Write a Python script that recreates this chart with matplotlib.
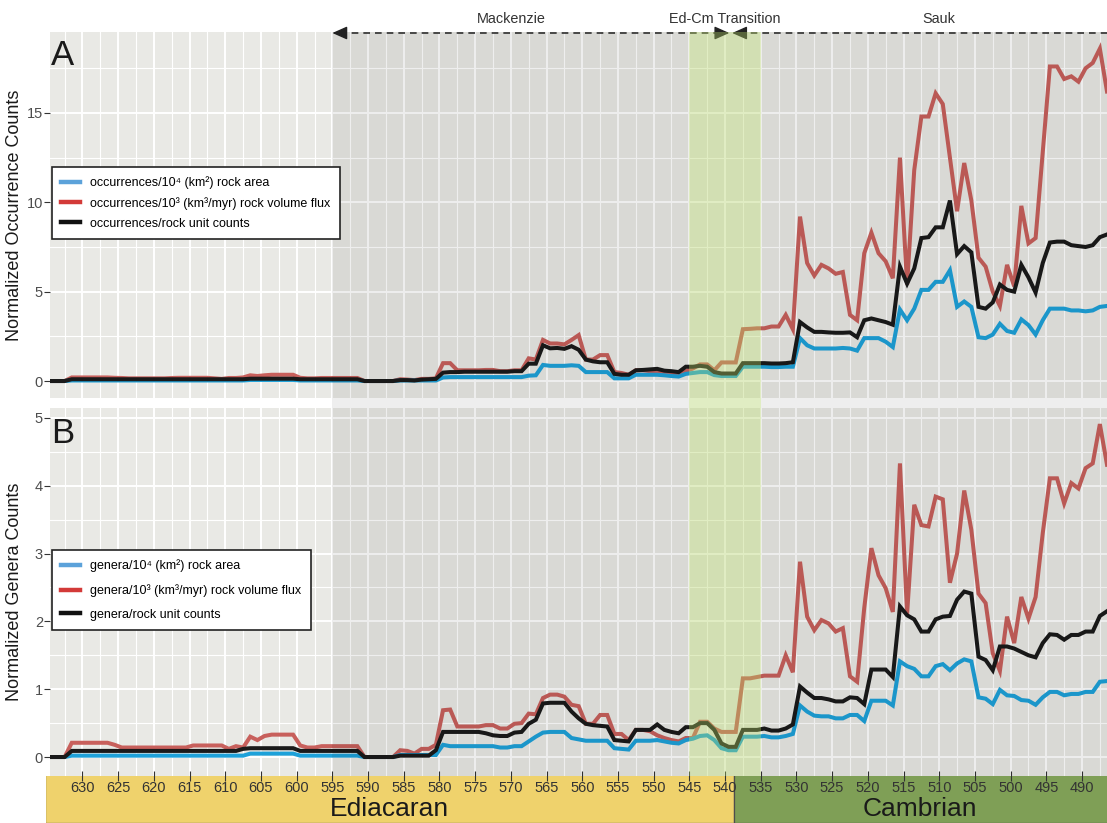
import numpy as np
import matplotlib.pyplot as plt
import matplotlib.transforms as mtransforms
from matplotlib.lines import Line2D
from matplotlib.patches import Rectangle

plt.rcParams['font.family'] = ['Liberation Sans', 'DejaVu Sans']

# 1-Myr bins, plotted at bin midpoints (Ma), oldest first
ages = np.arange(634.5, 486, -1.0)

# Panel A: normalized occurrence counts (one row = 10 bins)
occ_area = [
    0, 0, 0, 0.03, 0.03, 0.03, 0.03, 0.03, 0.03, 0.03,
    0.03, 0.03, 0.03, 0.03, 0.03, 0.03, 0.03, 0.03, 0.03, 0.03,
    0.03, 0.03, 0.03, 0.03, 0.03, 0.03, 0.03, 0.03, 0.06, 0.06,
    0.06, 0.06, 0.06, 0.06, 0.06, 0.03, 0.03, 0.03, 0.03, 0.03,
    0.03, 0.03, 0.03, 0.03, 0, 0, 0, 0, 0, 0.03,
    0.03, 0.03, 0.03, 0.03, 0.03, 0.2, 0.22, 0.22, 0.22, 0.22,
    0.22, 0.22, 0.22, 0.22, 0.22, 0.22, 0.22, 0.3, 0.32, 0.9,
    0.85, 0.85, 0.85, 0.88, 0.85, 0.5, 0.5, 0.5, 0.5, 0.15,
    0.15, 0.15, 0.35, 0.35, 0.35, 0.35, 0.32, 0.28, 0.25, 0.4,
    0.45, 0.5, 0.5, 0.33, 0.28, 0.28, 0.28, 0.8, 0.8, 0.8,
    0.8, 0.78, 0.78, 0.8, 0.8, 2.4, 2.0, 1.82, 1.82, 1.82,
    1.82, 1.85, 1.82, 1.7, 2.4, 2.4, 2.4, 2.2, 1.9, 4.0,
    3.4, 4.05, 5.1, 5.1, 5.55, 5.55, 6.2, 4.15, 4.45, 4.15,
    2.45, 2.4, 2.6, 3.2, 2.8, 2.7, 3.45, 3.13, 2.6, 3.4,
    4.05, 4.05, 4.05, 3.95, 3.95, 3.9, 3.95, 4.15, 4.2,
]
occ_flux = [
    0, 0, 0, 0.2, 0.2, 0.2, 0.2, 0.2, 0.2, 0.18,
    0.17, 0.15, 0.15, 0.15, 0.15, 0.15, 0.15, 0.17, 0.18, 0.18,
    0.18, 0.18, 0.18, 0.15, 0.12, 0.17, 0.17, 0.2, 0.32, 0.28,
    0.32, 0.35, 0.35, 0.35, 0.35, 0.18, 0.15, 0.15, 0.17, 0.17,
    0.17, 0.17, 0.17, 0.17, 0, 0, 0, 0, 0, 0.1,
    0.08, 0.05, 0.12, 0.12, 0.15, 1.0, 1.0, 0.6, 0.6, 0.6,
    0.6, 0.62, 0.62, 0.55, 0.55, 0.6, 0.6, 1.27, 1.2, 2.3,
    2.1, 2.1, 2.05, 2.3, 2.57, 1.2, 1.2, 1.45, 1.45, 0.5,
    0.45, 0.35, 0.6, 0.6, 0.55, 0.5, 0.45, 0.4, 0.35, 0.55,
    0.7, 0.93, 0.93, 0.6, 1.04, 1.04, 1.04, 2.9, 2.92, 2.95,
    2.95, 3.05, 3.05, 3.7, 2.9, 9.2, 6.6, 5.9, 6.5, 6.3,
    6.0, 6.1, 3.7, 3.4, 7.15, 8.3, 7.15, 6.7, 5.75, 12.5,
    5.4, 11.8, 14.8, 14.8, 16.1, 15.5, 12.5, 9.5, 12.2, 10.1,
    6.9, 6.4, 5.0, 4.2, 6.5, 5.3, 9.8, 7.7, 8.0, 12.8,
    17.6, 17.6, 16.9, 17.05, 16.75, 17.5, 17.8, 18.6, 16.2,
]
occ_units = [
    0, 0, 0, 0.1, 0.1, 0.1, 0.1, 0.1, 0.1, 0.1,
    0.1, 0.1, 0.1, 0.1, 0.1, 0.1, 0.1, 0.1, 0.1, 0.1,
    0.1, 0.1, 0.1, 0.1, 0.1, 0.1, 0.1, 0.1, 0.13, 0.13,
    0.13, 0.13, 0.13, 0.13, 0.13, 0.1, 0.1, 0.1, 0.1, 0.1,
    0.1, 0.1, 0.1, 0.1, 0, 0, 0, 0, 0, 0.05,
    0.05, 0.03, 0.08, 0.1, 0.12, 0.47, 0.5, 0.5, 0.52, 0.52,
    0.52, 0.52, 0.52, 0.52, 0.52, 0.55, 0.55, 0.97, 0.97, 2.0,
    1.83, 1.85, 1.8, 1.95, 1.75, 1.2, 1.1, 1.05, 1.05, 0.4,
    0.35, 0.35, 0.6, 0.62, 0.65, 0.68, 0.58, 0.55, 0.5, 0.8,
    0.8, 0.85, 0.8, 0.5, 0.42, 0.42, 0.42, 1.0, 1.0, 1.0,
    1.0, 0.98, 0.98, 1.0, 1.05, 3.3, 3.0, 2.75, 2.75, 2.72,
    2.7, 2.7, 2.72, 2.45, 3.4, 3.5, 3.4, 3.3, 3.15, 6.4,
    5.45, 6.3, 8.0, 8.05, 8.6, 8.6, 10.1, 7.1, 7.55, 7.2,
    4.15, 4.05, 4.4, 5.4, 5.1, 5.0, 6.5, 5.8, 4.95, 6.6,
    7.75, 7.8, 7.8, 7.6, 7.55, 7.5, 7.6, 8.05, 8.2,
]

# Panel B: normalized genera counts
gen_area = [
    0, 0, 0, 0.02, 0.02, 0.02, 0.02, 0.02, 0.02, 0.02,
    0.02, 0.02, 0.02, 0.02, 0.02, 0.02, 0.02, 0.02, 0.02, 0.02,
    0.02, 0.02, 0.02, 0.02, 0.02, 0.02, 0.02, 0.02, 0.05, 0.05,
    0.05, 0.05, 0.05, 0.05, 0.05, 0.02, 0.02, 0.02, 0.02, 0.02,
    0.02, 0.02, 0.02, 0.02, 0, 0, 0, 0, 0, 0.03,
    0.03, 0.03, 0.03, 0.03, 0.03, 0.18, 0.16, 0.16, 0.16, 0.16,
    0.16, 0.16, 0.16, 0.14, 0.14, 0.16, 0.16, 0.23, 0.3, 0.36,
    0.37, 0.37, 0.37, 0.28, 0.26, 0.24, 0.24, 0.24, 0.24, 0.13,
    0.12, 0.11, 0.24, 0.24, 0.24, 0.25, 0.23, 0.21, 0.2, 0.25,
    0.27, 0.31, 0.32, 0.25, 0.13, 0.1, 0.1, 0.3, 0.3, 0.3,
    0.31, 0.29, 0.29, 0.31, 0.34, 0.76, 0.67, 0.61, 0.6, 0.6,
    0.57, 0.57, 0.62, 0.62, 0.53, 0.83, 0.83, 0.83, 0.76, 1.41,
    1.34, 1.3, 1.19, 1.19, 1.34, 1.37, 1.28, 1.38, 1.44, 1.41,
    0.88, 0.86, 0.78, 0.99, 0.91, 0.9, 0.84, 0.83, 0.77, 0.88,
    0.96, 0.96, 0.91, 0.93, 0.93, 0.96, 0.96, 1.11, 1.12,
]
gen_flux = [
    0, 0, 0, 0.21, 0.21, 0.21, 0.21, 0.21, 0.21, 0.18,
    0.14, 0.14, 0.14, 0.14, 0.14, 0.14, 0.14, 0.14, 0.14, 0.14,
    0.17, 0.17, 0.17, 0.17, 0.17, 0.12, 0.16, 0.14, 0.3, 0.25,
    0.31, 0.33, 0.33, 0.33, 0.33, 0.17, 0.14, 0.14, 0.16, 0.16,
    0.16, 0.16, 0.16, 0.16, 0, 0, 0, 0, 0, 0.1,
    0.09, 0.05, 0.12, 0.12, 0.18, 0.69, 0.7, 0.45, 0.45, 0.45,
    0.45, 0.47, 0.47, 0.42, 0.42, 0.49, 0.5, 0.64, 0.63, 0.87,
    0.92, 0.92, 0.89, 0.77, 0.75, 0.49, 0.49, 0.62, 0.62, 0.34,
    0.34, 0.25, 0.4, 0.4, 0.38, 0.32, 0.28, 0.25, 0.23, 0.28,
    0.28, 0.52, 0.52, 0.42, 0.37, 0.37, 0.37, 1.16, 1.16, 1.18,
    1.2, 1.2, 1.2, 1.5, 1.25, 2.88, 2.07, 1.87, 2.02, 1.97,
    1.85, 1.9, 1.19, 1.11, 2.2, 3.08, 2.68, 2.49, 2.14, 4.33,
    2.11, 3.72, 3.42, 3.4, 3.84, 3.8, 2.57, 3.0, 3.93, 3.35,
    2.41, 2.27, 1.53, 1.27, 2.07, 1.68, 2.36, 2.04, 2.36, 3.3,
    4.11, 4.11, 3.74, 4.04, 3.96, 4.26, 4.33, 4.91, 4.31,
]
gen_units = [
    0, 0, 0, 0.09, 0.09, 0.09, 0.09, 0.09, 0.09, 0.09,
    0.09, 0.09, 0.09, 0.09, 0.09, 0.09, 0.09, 0.09, 0.09, 0.09,
    0.09, 0.09, 0.09, 0.09, 0.09, 0.09, 0.09, 0.12, 0.13, 0.13,
    0.13, 0.13, 0.13, 0.13, 0.13, 0.09, 0.09, 0.09, 0.09, 0.09,
    0.09, 0.09, 0.09, 0.09, 0, 0, 0, 0, 0, 0.02,
    0.02, 0.02, 0.02, 0.02, 0.1, 0.37, 0.37, 0.37, 0.37, 0.37,
    0.37, 0.35, 0.32, 0.31, 0.31, 0.36, 0.37, 0.49, 0.55, 0.79,
    0.8, 0.8, 0.8, 0.67, 0.57, 0.49, 0.47, 0.46, 0.45, 0.25,
    0.24, 0.23, 0.4, 0.4, 0.4, 0.48, 0.4, 0.37, 0.35, 0.44,
    0.44, 0.5, 0.5, 0.4, 0.2, 0.15, 0.15, 0.4, 0.4, 0.4,
    0.42, 0.39, 0.39, 0.42, 0.48, 1.04, 0.95, 0.87, 0.87, 0.85,
    0.82, 0.82, 0.88, 0.87, 0.78, 1.29, 1.29, 1.29, 1.18, 2.22,
    2.09, 2.03, 1.85, 1.85, 2.03, 2.07, 2.08, 2.32, 2.44, 2.41,
    1.48, 1.43, 1.28, 1.63, 1.63, 1.6, 1.55, 1.5, 1.47, 1.68,
    1.81, 1.8, 1.73, 1.8, 1.8, 1.85, 1.85, 2.08, 2.15,
]

occ_labels = ['occurrences/10⁴ (km²) rock area',
              'occurrences/10³ (km³/myr) rock volume flux',
              'occurrences/rock unit counts']
gen_labels = ['genera/10⁴ (km²) rock area',
              'genera/10³ (km³/myr) rock volume flux',
              'genera/rock unit counts']

# time intervals
periods = [('Ediacaran', 635.2, 538.8, '#efd26c'), ('Cambrian', 538.8, 480.0, '#7f9f56')]
mackenzie = (595.0, 539.4)
sauk_start = 539.0
transition = (545.0, 535.0)

line_colors = ['#1da1d9', '#c8605c', '#1a1a1a']
key_colors = ['#5ca2da', '#d33a38', '#111111']
panel_bg = '#e9e9e5'
band_color = '#c6ec6e'

W, H = 1107, 823
fig = plt.figure(figsize=(W / 100, H / 100), dpi=100)


def pixel_axes(x0, y0, x1, y1):
    return fig.add_axes([x0 / W, 1 - y1 / H, (x1 - x0) / W, (y1 - y0) / H])


axA = pixel_axes(50, 32, 1107, 398)
axB = pixel_axes(50, 408, 1107, 776)
axS = pixel_axes(46, 776, 1107, 823)
axS.set_zorder(0)
axA.set_zorder(2)
axB.set_zorder(2)

x_left, x_right = 634.55, 486.5
strip_left = 635.11


def style_panel(ax, ylim, major, minor):
    ax.set_facecolor(panel_bg)
    ax.set_xlim(x_left, x_right)
    ax.set_ylim(*ylim)
    ax.set_xticks(np.arange(630, 489, -5))
    ax.set_xticks(np.arange(632.5, 486, -5), minor=True)
    ax.set_yticks(major)
    ax.set_yticks(minor, minor=True)
    ax.grid(which='major', color='white', lw=1.4)
    ax.grid(which='minor', color='white', lw=0.8)
    ax.set_axisbelow(True)
    for s in ax.spines.values():
        s.set_visible(False)
    ax.tick_params(axis='y', which='major', direction='out', length=4,
                   color='#333333', labelcolor='#4d4d4d', labelsize=10.5, pad=1)
    ax.tick_params(which='minor', length=0)
    # later interval shading and the Ed-Cm transition band
    ax.axvspan(mackenzie[0], 470, color='black', alpha=0.065, lw=0, zorder=3)
    ax.axvspan(*transition, color=band_color, alpha=0.33, lw=0, zorder=4)


def draw_series(ax, series, labels, spacing, anchor_y):
    for vals, col, z in zip(series, line_colors, [2.2, 2.1, 2.3]):
        ax.plot(ages, vals, color=col, lw=2.9, solid_joinstyle='miter', zorder=z)
    handles = [Line2D([], [], color=c, lw=3.2) for c in key_colors]
    leg = ax.legend(handles, labels, loc='upper left',
                    bbox_to_anchor=(52 / W, 1 - anchor_y / H),
                    bbox_transform=fig.transFigure, borderaxespad=0,
                    fontsize=9, frameon=True, fancybox=False, framealpha=1,
                    edgecolor='#222222', handlelength=1.45, handletextpad=0.85,
                    labelspacing=spacing, borderpad=0.75)
    leg.get_frame().set_linewidth(1.2)
    leg.set_zorder(10)


style_panel(axA, (-0.95, 19.53), [0, 5, 10, 15], [2.5, 7.5, 12.5, 17.5])
style_panel(axB, (-0.28, 5.147), [0, 1, 2, 3, 4, 5], np.arange(0.5, 5, 1.0))
draw_series(axA, [occ_area, occ_flux, occ_units], occ_labels, 0.62, 167)
draw_series(axB, [gen_area, gen_flux, gen_units], gen_labels, 0.95, 550)

axA.tick_params(axis='x', which='major', length=0, labelbottom=False)
axB.tick_params(axis='x', which='major', direction='inout', length=7,
                color='#333333', labelcolor='#333333', labelsize=10.5, pad=0)

axA.set_ylabel('Normalized Occurrence Counts', fontsize=13, color='#1a1a1a')
axB.set_ylabel('Normalized Genera Counts', fontsize=13, color='#1a1a1a')
axA.yaxis.set_label_coords(-27 / (1107 - 50), 0.5)
axB.yaxis.set_label_coords(-27 / (1107 - 50), 0.5)

fig.text(51 / W, 1 - 65 / H, 'A', fontsize=25, color='#1a1a1a', va='baseline')
fig.text(51 / W, 1 - 443 / H, 'B', fontsize=25, color='#1a1a1a', va='baseline')

# shading continues across the gap between the panels
gap = mtransforms.blended_transform_factory(axB.transData, fig.transFigure)
gap_y0, gap_h = 1 - 408 / H, 10 / H
fig.add_artist(Rectangle((mackenzie[0], gap_y0), x_right - mackenzie[0] - 10, gap_h,
                         transform=gap, color='black', alpha=0.065, lw=0))
fig.add_artist(Rectangle((transition[0], gap_y0), transition[1] - transition[0], gap_h,
                         transform=gap, color=band_color, alpha=0.33, lw=0))

# geological period bar
axS.set_xlim(strip_left, x_right)
axS.set_ylim(0, 1)
axS.axis('off')
for name, start, end, col in periods:
    axS.add_patch(Rectangle((start, 0), end - start, 1.2, facecolor=col,
                            edgecolor='#4d4d4d', lw=0.9))
    mid = (min(start, strip_left) + max(end, x_right)) / 2
    axS.text(mid, 0.149, name, ha='center', va='baseline', fontsize=19,
             color='#1a1a1a')

# tectonostratigraphic sequences along the top
top = mtransforms.blended_transform_factory(axA.transData, fig.transFigure)
arrow_y = 1 - 33 / H
text_y = 1 - 19 / H
dash = dict(color='#333333', lw=1.2, ls=(0, (4, 3)), clip_on=False, transform=top)
axA.plot([mackenzie[0] - 1, mackenzie[1] + 1], [arrow_y, arrow_y], **dash)
axA.plot([sauk_start - 1, x_right], [arrow_y, arrow_y], **dash)
head = dict(arrowstyle='-|>,head_length=0.9,head_width=0.4', color='#222222',
            lw=1.0, shrinkA=0, shrinkB=0)
for tip, tail in [(mackenzie[0], mackenzie[0] - 1.6), (mackenzie[1], mackenzie[1] + 1.6),
                  (sauk_start, sauk_start - 1.6)]:
    axA.annotate('', xy=(tip, arrow_y), xytext=(tail, arrow_y), xycoords=top,
                 textcoords=top, arrowprops=head, annotation_clip=False)
for label, x in [('Mackenzie', 570.0), ('Ed-Cm Transition', 540.0), ('Sauk', 510.0)]:
    axA.text(x, text_y, label, transform=top, ha='center', va='center',
             fontsize=10.4, color='#333333')

fig.savefig('out.png', dpi=100)
